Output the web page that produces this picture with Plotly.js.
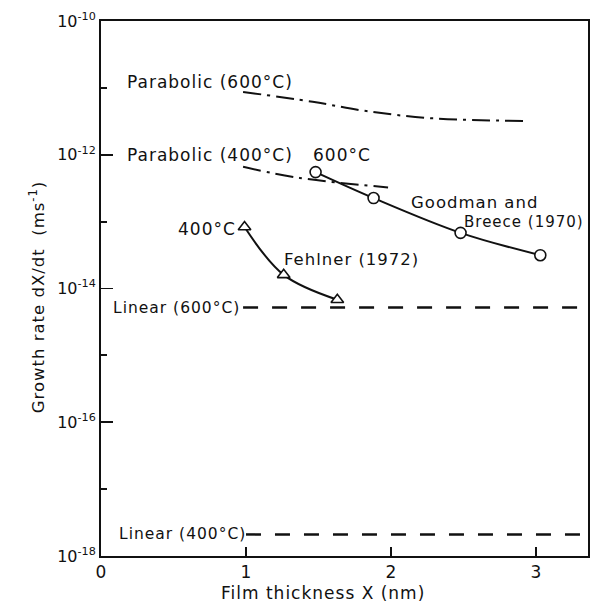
<!DOCTYPE html>
<html>
<head>
<meta charset="utf-8">
<script src="https://cdn.plot.ly/plotly-3.0.1.min.js"></script>
<style>
  html, body { margin: 0; padding: 0; background: #fff; }
  #chart { width: 590px; height: 602px; }
  .annotation-text { letter-spacing: 1px; }
</style>
</head>
<body>
<div id="chart"></div>
<script>
// Film thickness X (nm) and growth rate dX/dt (m s^-1)
const goodmanX = [1.48, 1.88, 2.48, 3.03];
const goodmanY = [5.5e-13, 2.25e-13, 6.8e-14, 3.15e-14];

const fehlnerX = [0.99, 1.26, 1.63];
const fehlnerY = [8.3e-14, 1.6e-14, 6.8e-15];

const parabolic600X = [0.98, 1.46, 1.83, 2.29, 2.94];
const parabolic600Y = [8.7e-12, 6.2e-12, 4.5e-12, 3.5e-12, 3.2e-12];

const parabolic400X = [0.98, 1.37, 1.98];
const parabolic400Y = [6.6e-13, 4.5e-13, 3.25e-13];

const linear600X = [0.98, 3.33];
const linear600Y = [5.2e-15, 5.2e-15];

const linear400X = [1.0, 3.33];
const linear400Y = [2.1e-18, 2.1e-18];

const xTickVals = [0, 1, 2, 3];
const xTickText = ['0', '1', '2', '3'];
const yTickVals = [1e-18, 1e-16, 1e-14, 1e-12, 1e-10];
const yTickText = ['10<sup>-18</sup>', '10<sup>-16</sup>', '10<sup>-14</sup>', '10<sup>-12</sup>', '10<sup>-10</sup>'];
const yMinorVals = [1e-17, 1e-15, 1e-13, 1e-11];

const INK = '#111';
const FONT = 'DejaVu Sans, sans-serif';

const traces = [
  {
    x: parabolic600X, y: parabolic600Y, mode: 'lines',
    line: { color: INK, width: 2, dash: '18px,6px,3px,6px', shape: 'spline' }
  },
  {
    x: parabolic400X, y: parabolic400Y, mode: 'lines',
    line: { color: INK, width: 2, dash: '18px,6px,3px,6px', shape: 'spline' }
  },
  {
    x: linear600X, y: linear600Y, mode: 'lines',
    line: { color: INK, width: 2.5, dash: '15px,14px' }
  },
  {
    x: linear400X, y: linear400Y, mode: 'lines',
    line: { color: INK, width: 2.5, dash: '15px,14px' }
  },
  {
    x: goodmanX, y: goodmanY, mode: 'lines+markers',
    line: { color: INK, width: 2, shape: 'spline' },
    marker: { symbol: 'circle', size: 11, color: '#fff', line: { color: INK, width: 1.6 } }
  },
  {
    x: fehlnerX, y: fehlnerY, mode: 'lines+markers',
    line: { color: INK, width: 2, shape: 'spline' },
    marker: { symbol: 'triangle-up', size: 11, color: '#fff', line: { color: INK, width: 1.6 } }
  }
];

function label(text, x, y, xanchor, size) {
  return { text: text, x: x, y: y, xref: 'x', yref: 'y', xanchor: xanchor, yanchor: 'middle',
           showarrow: false, font: { family: FONT, size: size || 17, color: INK } };
}

const annotations = [
  label('Parabolic (600°C)', 0.165, -10.91, 'left'),
  label('Parabolic (400°C)', 0.165, -12.0, 'left'),
  label('600°C', 1.45, -12.0, 'left'),
  label('Goodman and', 2.125, -12.72, 'left', 16.5),
  label('Breece (1970)', 2.49, -13.0, 'left', 15),
  label('400°C', 0.945, -13.11, 'right'),
  label('Fehlner (1972)', 1.25, -13.56, 'left', 16.5),
  label('Linear (600°C)', 0.975, -14.29, 'right', 15.5),
  label('Linear (400°C)', 0.11, -17.67, 'left', 15.5),
  {
    text: 'Film thickness X (nm)', xref: 'paper', yref: 'paper', x: 0.456, y: -0.069,
    xanchor: 'center', yanchor: 'middle', showarrow: false, font: { family: FONT, size: 17, color: INK }
  },
  {
    text: 'Growth rate dX/dt  (ms<sup>-1</sup>)', xref: 'paper', yref: 'paper', x: -0.131, y: 0.484,
    xanchor: 'center', yanchor: 'middle', textangle: -90, showarrow: false,
    font: { family: FONT, size: 16.5, color: INK }
  }
];

const layout = {
  width: 590, height: 602,
  margin: { l: 101, r: 2, t: 21, b: 46 },
  paper_bgcolor: '#fff', plot_bgcolor: '#fff',
  showlegend: false,
  font: { family: FONT, color: INK },
  xaxis: {
    range: [0, 3.359], tickmode: 'array', tickvals: xTickVals, ticktext: xTickText,
    ticks: 'inside', ticklen: 9, tickwidth: 1.8, tickcolor: INK,
    showline: true, linecolor: INK, linewidth: 2, mirror: true,
    showgrid: false, zeroline: false,
    tickfont: { family: FONT, size: 17, color: INK }
  },
  yaxis: {
    type: 'log', range: [-18, -10], tickmode: 'array', tickvals: yTickVals, ticktext: yTickText,
    ticks: 'inside', ticklen: 12, tickwidth: 1.8, tickcolor: INK,
    minor: { tickmode: 'array', tickvals: yMinorVals, ticks: 'inside', ticklen: 6, tickwidth: 1.8, tickcolor: INK, showgrid: false },
    showline: true, linecolor: INK, linewidth: 2, mirror: true,
    showgrid: false, zeroline: false,
    tickfont: { family: FONT, size: 16, color: INK }
  },
  annotations: annotations
};

Plotly.newPlot('chart', traces, layout, { displayModeBar: false, staticPlot: true });
</script>
</body>
</html>
